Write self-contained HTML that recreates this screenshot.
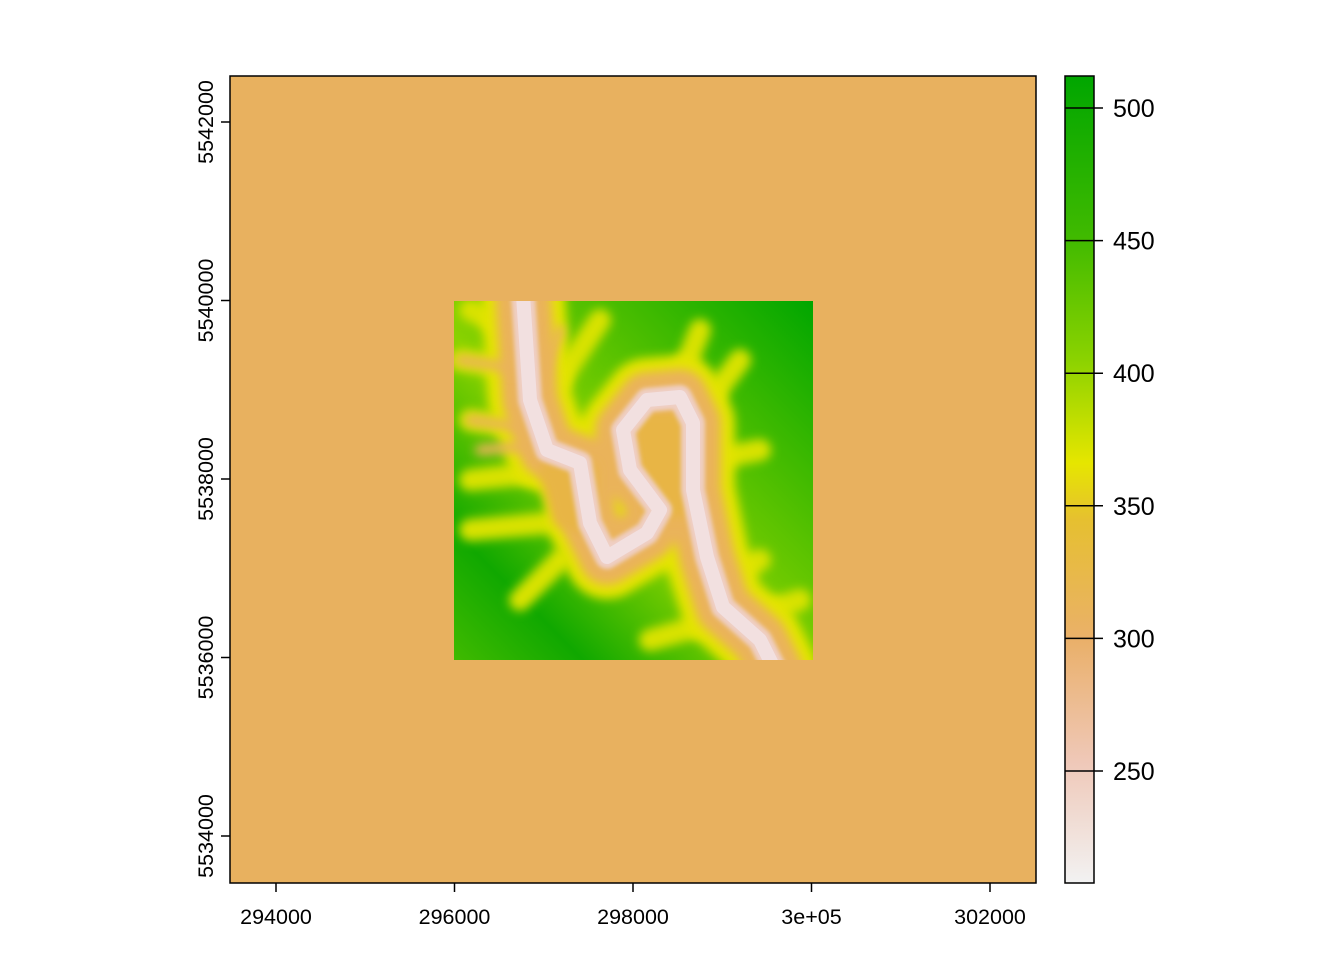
<!DOCTYPE html>
<html><head><meta charset="utf-8"><style>
body{margin:0;background:#fff;}
svg text{font-family:"Liberation Sans",Arial,sans-serif;font-size:21.5px;fill:#000;}
</style></head><body>
<svg id="c" width="1344" height="960" viewBox="0 0 1344 960">
<defs>
<linearGradient id="lg" x1="0" y1="1" x2="0" y2="0">
<stop offset="0" stop-color="#F2F2F2"/>
<stop offset="0.15" stop-color="#EFC8B8"/>
<stop offset="0.30" stop-color="#EAB06A"/>
<stop offset="0.45" stop-color="#E6C030"/>
<stop offset="0.52" stop-color="#E6E600"/>
<stop offset="0.65" stop-color="#8AD200"/>
<stop offset="0.8" stop-color="#40BA00"/>
<stop offset="1" stop-color="#00A600"/>
</linearGradient>
<linearGradient id="tg" x1="0" y1="1" x2="1" y2="0">
<stop offset="0" stop-color="#40BA00"/>
<stop offset="0.18" stop-color="#10A800"/>
<stop offset="0.45" stop-color="#8AD200"/>
<stop offset="0.75" stop-color="#40BA00"/>
<stop offset="1" stop-color="#00A600"/>
</linearGradient>
<clipPath id="cp"><rect x="454" y="301" width="359" height="359"/></clipPath>
<filter id="bl" x="-20%" y="-20%" width="140%" height="140%"><feGaussianBlur stdDeviation="5"/></filter>
<filter id="bl2"><feGaussianBlur stdDeviation="2"/></filter>
</defs>
<rect x="230" y="76" width="806" height="807" fill="#E8B15F"/>
<g clip-path="url(#cp)">
<rect x="454" y="301" width="359" height="359" fill="url(#tg)"/>
<g fill="none" stroke-linecap="round" stroke-linejoin="round">
<path filter="url(#bl)" d="M470,420 L540,430 M460,360 L525,370 M470,480 L560,470 M600,320 L560,380 M700,330 L680,380 M760,560 L720,580 M800,600 L740,620 M650,640 L720,620 M470,530 L580,520 M740,360 L710,400 M760,450 L710,460 M470,310 L510,330 M560,560 L520,600" stroke="#D8E200" stroke-width="22"/>
<path filter="url(#bl)" d="M523,295 L530,400 L547,450 L580,463 L590,523 L607,557 L647,533 L660,510 L630,470 L623,430 L647,400 L680,397 L693,423 L693,490 L707,557 L723,607 L760,640 L775,670" stroke="#E4E400" stroke-width="84"/>
<path filter="url(#bl)" d="M523,295 L530,400 L547,450 L580,463 L590,523 L607,557 L647,533 L660,510 L630,470 L623,430 L647,400 L680,397 L693,423 L693,490 L707,557 L723,607 L760,640 L775,670" stroke="#EAB35A" stroke-width="56"/>
<path filter="url(#bl)" d="M470,420 L540,430 M460,360 L525,370 M560,330 L540,380 M700,560 L720,580 M480,450 L540,445" stroke="#EAB35A" stroke-width="10"/>
<path filter="url(#bl)" d="M640,420 L680,420 L680,510 L650,510 Z M560,470 L590,470 L590,530 L560,520 Z M545,470 L575,480 L580,520 L560,520 Z" fill="#E8B545" stroke="#E8B545" stroke-width="14"/>
<path filter="url(#bl2)" d="M523,295 L530,400 L547,450 L580,463 L590,523 L607,557 L647,533 L660,510 L630,470 L623,430 L647,400 L680,397 L693,423 L693,490 L707,557 L723,607 L760,640 L775,670" stroke="#EFCFC4" stroke-width="24"/>
<path d="M523,295 L530,400 L547,450 L580,463 L590,523 L607,557 L647,533 L660,510 L630,470 L623,430 L647,400 L680,397 L693,423 L693,490 L707,557 L723,607 L760,640 L775,670" stroke="#F2E0E0" stroke-width="14"/>
</g>
</g>
<rect x="230" y="76" width="806" height="807" fill="none" stroke="#000" stroke-width="1.5"/>
<g id="xax"></g>
<g id="yax"></g>
<rect x="1065" y="76" width="29" height="807" fill="url(#lg)" stroke="#000" stroke-width="1.5"/>
<g id="leg"></g>
</svg>
<script>
const xTicks=[294000,296000,298000,300000,302000];
const xLabels=["294000","296000","298000","3e+05","302000"];
const yTicks=[5534000,5536000,5538000,5540000,5542000];
const legTicks=[250,300,350,400,450,500];
const NS="http://www.w3.org/2000/svg";
const xs=v=>276+(v-294000)*(990-276)/8000;
const ys=v=>836-(v-5534000)*(836-122)/8000;
const ls=v=>771-(v-250)*(771-108)/250;
function mk(t,a,p){const e=document.createElementNS(NS,t);for(const k in a)e.setAttribute(k,a[k]);p.appendChild(e);return e;}
const xa=document.getElementById('xax');
xTicks.forEach((v,i)=>{const x=xs(v);
const l=mk('line',{x1:x,x2:x,y1:883,y2:892,stroke:'#000','stroke-width':1.5},xa);


const t=mk('text',{x:x,y:924,'text-anchor':'middle'},xa);t.textContent=xLabels[i];

});
const ya=document.getElementById('yax');
yTicks.forEach(v=>{const y=ys(v);
const l=mk('line',{x1:221,x2:230,y1:y,y2:y,stroke:'#000','stroke-width':1.5},ya);


const t=mk('text',{x:0,y:0,'text-anchor':'middle',transform:`translate(213,${y}) rotate(-90)`},ya);t.textContent=String(v);

});
const lg=document.getElementById('leg');
legTicks.forEach(v=>{const y=ls(v);
const l=mk('line',{x1:1065,x2:1103,y1:y,y2:y,stroke:'#000','stroke-width':1.5},lg);


const t=mk('text',{x:1113,y:y+9},lg);t.textContent=String(v);
t.style.fontSize='25px';

});
</script>
</body></html>
